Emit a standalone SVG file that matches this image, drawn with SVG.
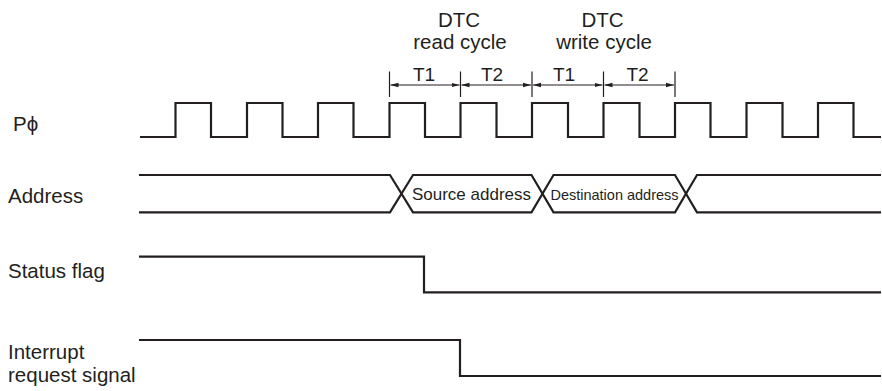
<svg xmlns="http://www.w3.org/2000/svg" width="882" height="391" viewBox="0 0 882 391">
<style>
.sig{fill:none;stroke:#231f20;stroke-width:2.2;stroke-linejoin:miter}
.tick{fill:none;stroke:#231f20;stroke-width:1.2}
.dim{fill:none;stroke:#231f20;stroke-width:1.1}
.lbl{font-family:"Liberation Sans","DejaVu Sans",Arial,sans-serif;font-size:20.5px;fill:#231f20}
.t{font-family:"Liberation Sans",Arial,sans-serif;font-size:19px;fill:#231f20;text-anchor:middle}
.top{font-family:"Liberation Sans",Arial,sans-serif;font-size:20.5px;fill:#231f20;text-anchor:middle}
.bus{font-family:"Liberation Sans",Arial,sans-serif;fill:#231f20;text-anchor:middle}
</style>
<defs>
<marker id="ah" viewBox="0 0 8 6" refX="8" refY="3" markerWidth="8" markerHeight="6" markerUnits="userSpaceOnUse" orient="auto-start-reverse">
<path d="M0,0.8 L8,3 L0,5.2 Z" fill="#231f20"/>
</marker>
</defs>
<rect width="882" height="391" fill="#ffffff"/>

<g id="labels">
<text class="lbl" x="13" y="131">Pϕ</text>
<text class="lbl" x="8" y="203">Address</text>
<text class="lbl" x="8" y="278">Status flag</text>
<text class="lbl" x="8" y="358.5" font-size="20">Interrupt</text>
<text class="lbl" x="8" y="382" font-size="20">request signal</text>
</g>

<g id="cycle-titles">
<text class="top" x="459" y="26.5">DTC</text>
<text class="top" x="460" y="48.5">read cycle</text>
<text class="top" x="602.5" y="26.5">DTC</text>
<text class="top" x="604" y="48.5">write cycle</text>
</g>

<g id="clock">
<path class="sig" d="M140,137 H175.5 V103 H211 V137 H247 V103 H282.5 V137 H318 V103 H353.5 V137 H389.5 V103 H425 V137 H460.5 V103 H496.5 V137 H532 V103 H568 V137 H603.5 V103 H639.5 V137 H675 V103 H710.5 V137 H746.5 V103 H782.5 V137 H818 V103 H853.5 V137 H881"/>
</g>

<g id="address">
<path class="sig" d="M139,175 H390 L413,212.3 H531.5 L553.5,175 H675 L697,212.3 H881"/>
<path class="sig" d="M139,212.3 H390 L413,175 H531.5 L553.5,212.3 H675 L697,175 H881"/>
<text class="bus" x="471.5" y="200" font-size="17">Source address</text>
<text class="bus" x="614.5" y="200" font-size="14.5">Destination address</text>
</g>

<g id="status-flag">
<path class="sig" d="M139,256.7 H424 V292.3 H881"/>
</g>

<g id="interrupt-request">
<path class="sig" d="M139,340 H460 V376 H881"/>
</g>

<g id="connectors">
<path class="tick" d="M389.5,71.5 V97 M460.5,71.5 V97 M532,71.5 V97 M603.5,71.5 V97 M675,71.5 V97"/>
<line class="dim" x1="390.5" y1="85" x2="459.5" y2="85" marker-start="url(#ah)" marker-end="url(#ah)"/>
<line class="dim" x1="461.5" y1="85" x2="531" y2="85" marker-start="url(#ah)" marker-end="url(#ah)"/>
<line class="dim" x1="533" y1="85" x2="602.5" y2="85" marker-start="url(#ah)" marker-end="url(#ah)"/>
<line class="dim" x1="604.5" y1="85" x2="674" y2="85" marker-start="url(#ah)" marker-end="url(#ah)"/>
</g>

<g id="interval-labels">
<text class="t" x="424" y="81">T1</text>
<text class="t" x="492" y="81">T2</text>
<text class="t" x="564" y="81">T1</text>
<text class="t" x="637.5" y="81">T2</text>
</g>
</svg>
